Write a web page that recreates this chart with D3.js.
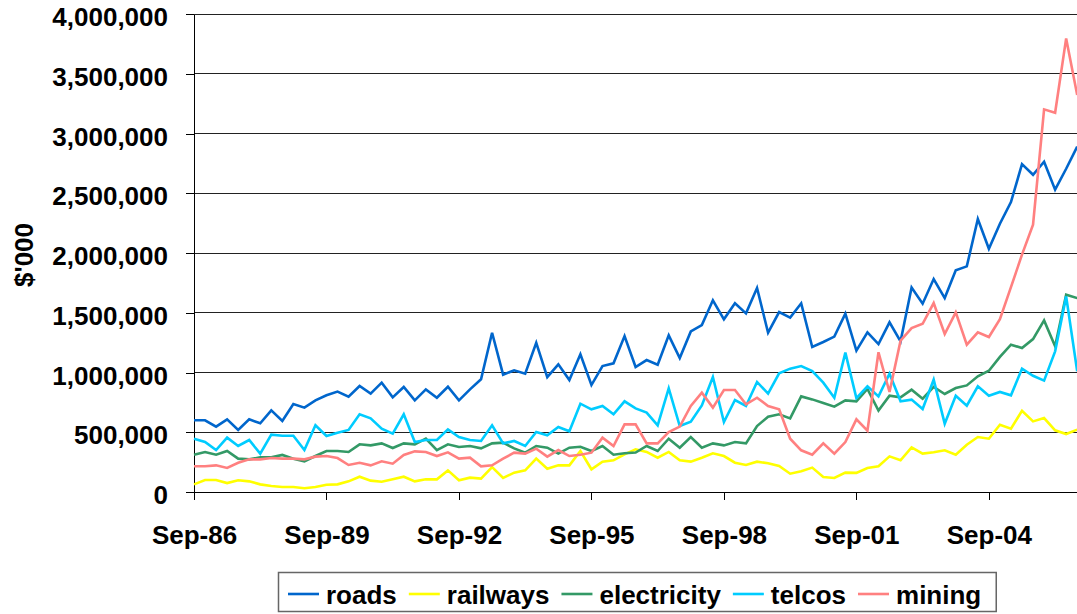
<!DOCTYPE html>
<html>
<head>
<meta charset="utf-8">
<script src="https://cdn.jsdelivr.net/npm/d3@7"></script>
<style>
  body { margin: 0; background: #fff; }
  text { font-family: "Liberation Sans", Arial, sans-serif; font-weight: bold; fill: #000; }
</style>
</head>
<body>
<div id="chart"></div>
<script>
// quarterly investment, $'000 (Sep-86 .. Sep-06)
var roads = [600000,600000,547000,608000,519000,608000,575000,683000,594000,736000,706000,767000,809000,840000,798000,887000,823000,915000,792000,879000,
  767000,859000,789000,881000,767000,859000,943000,1333000,982000,1018000,990000,1249000,962000,1068000,937000,1152000,895000,1054000,1077000,1305000,
  1046000,1104000,1065000,1311000,1121000,1344000,1397000,1604000,1445000,1579000,1495000,1707000,1333000,1506000,1459000,1579000,1213000,1255000,1300000,1492000,
  1183000,1336000,1238000,1420000,1261000,1712000,1576000,1782000,1623000,1855000,1888000,2284000,2036000,2245000,2426000,2744000,2655000,2764000,2530000,2705000,2890000];
var railways = [64000,100000,100000,75000,98000,89000,64000,50000,42000,42000,31000,42000,61000,64000,89000,128000,95000,86000,106000,128000,
  89000,106000,106000,181000,98000,120000,112000,209000,117000,162000,181000,279000,195000,223000,223000,343000,190000,254000,265000,315000,
  357000,335000,287000,335000,265000,254000,287000,324000,301000,245000,226000,254000,240000,218000,153000,173000,204000,126000,117000,162000,
  160000,201000,215000,298000,265000,374000,321000,332000,349000,312000,396000,460000,446000,563000,530000,680000,591000,619000,516000,485000,522000];
var electricity = [312000,335000,312000,343000,279000,273000,290000,290000,310000,279000,257000,301000,343000,343000,335000,399000,390000,407000,368000,407000,
  399000,446000,351000,399000,377000,385000,365000,407000,413000,365000,329000,385000,371000,321000,371000,379000,343000,385000,312000,324000,
  330000,385000,343000,446000,371000,460000,371000,407000,390000,418000,407000,552000,630000,650000,616000,800000,775000,745000,714000,767000,
  759000,862000,681000,806000,792000,856000,781000,879000,820000,870000,892000,968000,1015000,1130000,1233000,1205000,1280000,1436000,1219000,1651000,1623000];
var telcos = [446000,418000,351000,455000,385000,435000,321000,480000,471000,471000,351000,558000,469000,496000,519000,650000,616000,530000,488000,650000,
  418000,435000,435000,524000,460000,435000,427000,558000,407000,427000,385000,502000,474000,544000,508000,739000,692000,720000,650000,759000,
  700000,664000,558000,867000,552000,589000,725000,962000,586000,770000,720000,921000,823000,993000,1032000,1054000,1012000,915000,789000,1166000,
  786000,884000,800000,990000,759000,773000,694000,940000,572000,806000,722000,884000,806000,837000,809000,1032000,973000,932000,1177000,1637000,1010000];
var mining = [215000,215000,223000,201000,245000,273000,273000,284000,279000,279000,273000,296000,301000,284000,226000,245000,223000,257000,237000,310000,
  340000,335000,301000,332000,279000,287000,215000,223000,279000,329000,321000,363000,296000,351000,301000,312000,329000,455000,385000,566000,
  566000,407000,407000,502000,547000,720000,831000,706000,853000,853000,734000,789000,720000,692000,446000,349000,312000,407000,321000,418000,
  608000,513000,1169000,837000,1266000,1372000,1408000,1581000,1322000,1503000,1233000,1336000,1297000,1447000,1715000,1986000,2237000,3202000,3174000,3796000,3322000];

var seriesNames = ["roads", "railways", "electricity", "telcos", "mining"];
var seriesColors = ["#0066cc", "#ffff00", "#339966", "#00ccff", "#ff8080"];
var yTicks = [0, 500000, 1000000, 1500000, 2000000, 2500000, 3000000, 3500000, 4000000];
var tickLabels = ["Sep-86", "Sep-89", "Sep-92", "Sep-95", "Sep-98", "Sep-01", "Sep-04"];

// category labels, one per quarter
var quarters = d3.timeMonth.range(new Date(1986, 8, 1), new Date(2006, 9, 1), 3).map(d3.timeFormat("%b-%y"));
var allSeries = [roads, railways, electricity, telcos, mining];

// dimensions
var margin = { top: 14, right: 0, bottom: 122, left: 194 },
    width = 1077 - margin.left - margin.right,
    height = 614 - margin.top - margin.bottom;

var svg = d3.select("#chart")
    .append("svg")
    .attr("width", 1077)
    .attr("height", 614)
    .append("g")
    .attr("transform", "translate(" + margin.left + "," + margin.top + ")");

var x = d3.scalePoint()
    .domain(quarters)
    .range([0, 11.04 * (quarters.length - 1)]);

var y = d3.scaleLinear()
    .domain([0, 4000000])
    .range([height, 0]);

// gridlines
svg.selectAll(".grid")
    .data(yTicks.slice(1))
    .enter()
    .append("line")
    .attr("x1", 0)
    .attr("x2", width)
    .attr("y1", function (d) { return y(d); })
    .attr("y2", function (d) { return y(d); })
    .attr("stroke", "#222")
    .attr("stroke-width", 1)
    .attr("shape-rendering", "crispEdges");

// Y axis
var yAxis = svg.append("g")
    .call(d3.axisLeft(y).tickValues(yTicks).tickSize(8).tickSizeOuter(0).tickPadding(18).tickFormat(d3.format(",")));
yAxis.selectAll("text").style("font-size", "26px").attr("dy", "0.45em");
yAxis.selectAll("line,path").attr("stroke", "#000").attr("shape-rendering", "crispEdges");

// X axis
var xAxis = svg.append("g")
    .attr("transform", "translate(0," + height + ")")
    .call(d3.axisBottom(x).tickValues(tickLabels).tickSize(8).tickSizeOuter(0).tickPadding(26));
xAxis.selectAll("text").style("font-size", "26px");
xAxis.selectAll("line,path").attr("stroke", "#000").attr("shape-rendering", "crispEdges");

// Y label
svg.append("text")
    .attr("transform", "translate(" + (33 - margin.left) + "," + (255 - margin.top) + ") rotate(-90)")
    .style("text-anchor", "middle")
    .style("font-size", "26px")
    .text("$'000");

// Lines
var line = d3.line()
    .x(function (d, i) { return x(quarters[i]); })
    .y(function (d) { return y(d); });

svg.selectAll(".series")
    .data(allSeries)
    .enter()
    .append("path")
    .attr("d", line)
    .attr("fill", "none")
    .attr("stroke", function (d, i) { return seriesColors[i]; })
    .attr("stroke-width", 2.6)
    .attr("stroke-linejoin", "miter");

// Legend
var legend = d3.select("svg").append("g");
var box = legend.append("rect")
    .attr("x", 278.5).attr("y", 572.5)
    .attr("height", 39)
    .attr("fill", "#fff")
    .attr("stroke", "#666")
    .attr("stroke-width", 1.5);

var lx = 288;
seriesNames.forEach(function (name, i) {
    legend.append("line")
        .attr("x1", lx).attr("x2", lx + 31)
        .attr("y1", 594).attr("y2", 594)
        .attr("stroke", seriesColors[i])
        .attr("stroke-width", 2.6);
    var t = legend.append("text")
        .attr("x", lx + 38).attr("y", 604)
        .style("font-size", "26px")
        .text(name);
    lx = lx + 38 + t.node().getComputedTextLength() + 12;
});
box.attr("width", lx - 278.5 + 3);
</script>
</body>
</html>
